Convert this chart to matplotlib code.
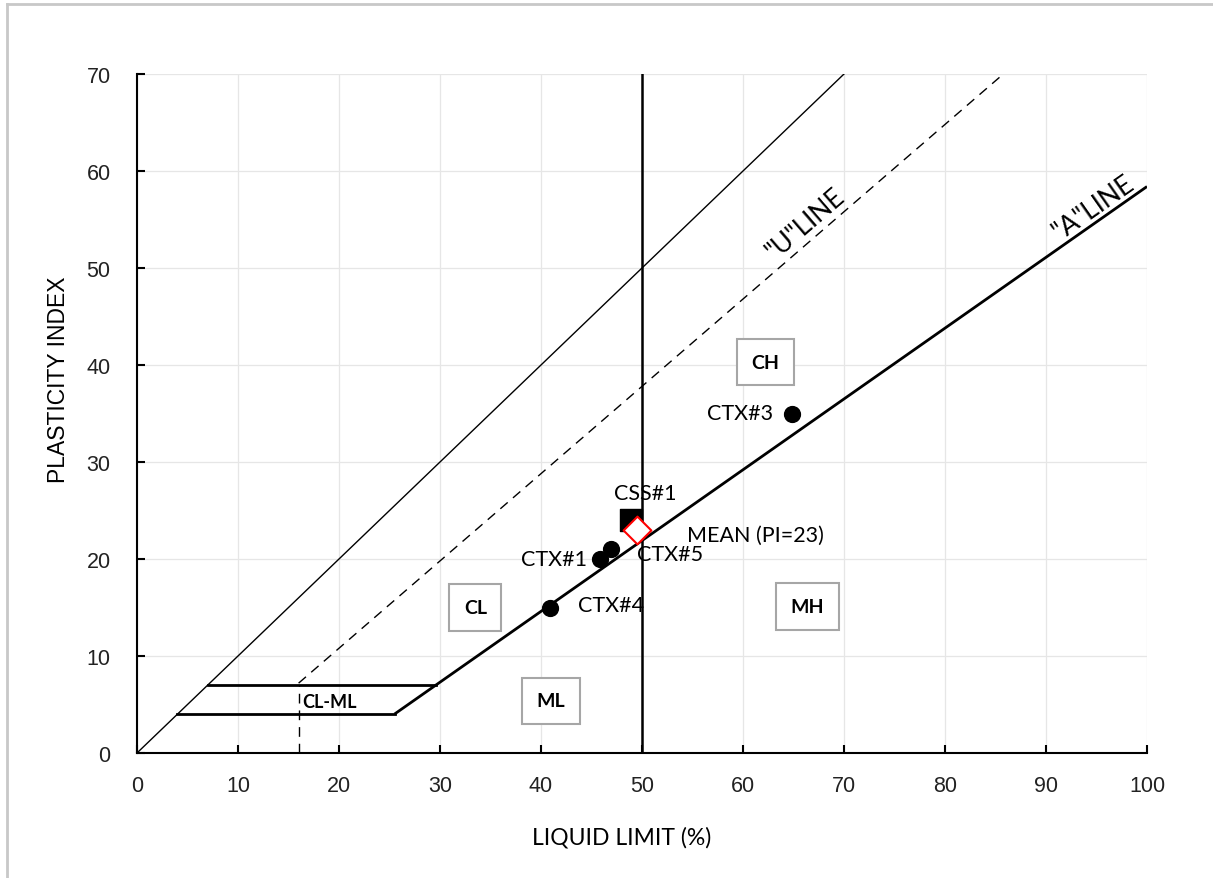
import matplotlib
matplotlib.use("Agg")
import matplotlib.pyplot as plt
from matplotlib.lines import Line2D
import numpy as np

# ---- data ----
ctx_names = ["CTX#1", "CTX#5", "CTX#4", "CTX#3"]
ctx_ll = [45.8, 46.9, 40.9, 64.9]
ctx_pi = [20.0, 21.0, 15.0, 35.0]
css_name = "CSS#1"
css_ll = [48.9]
css_pi = [24.0]
mean_name = "MEAN (PI=23)"
mean_ll = [49.5]
mean_pi = [23.0]

# reference lines
a_line_ll = [25.5, 100.0]          # PI = 0.73 (LL - 20)
u_line_ll = [16.0, 85.8]           # PI = 0.9 (LL - 8)
eq_line = [0, 70]
clml_top = [7.0, 29.6]             # PI = 7
clml_bot = [4.0, 25.5]             # PI = 4

zones = ["CH", "CL", "MH", "ML"]
zone_ll = [62.2, 33.5, 66.4, 41.0]
zone_pi = [40.3, 15.0, 15.1, 5.4]

x_ticks = list(range(0, 101, 10))
y_ticks = list(range(0, 71, 10))

W, H = 1213, 879
fig = plt.figure(figsize=(W / 100, H / 100), dpi=100)
ax = fig.add_axes([137 / W, 1 - 754 / H, (1147 - 137) / W, (754 - 75) / H])

# outer frame (left & top)
fig.add_artist(Line2D([7 / W, 7 / W], [0, 1 - 5 / H], transform=fig.transFigure, color="#c8c8c8", lw=2))
fig.add_artist(Line2D([7 / W, 1], [1 - 5 / H, 1 - 5 / H], transform=fig.transFigure, color="#c8c8c8", lw=2))

ax.set_xlim(0, 100)
ax.set_ylim(0, 70)
ax.set_xticks(x_ticks)
ax.set_yticks(y_ticks)
ax.grid(True, color="#e6e6e6", lw=0.9)
ax.set_axisbelow(True)
for s in ["top", "right"]:
    ax.spines[s].set_visible(False)
for s in ["left", "bottom"]:
    ax.spines[s].set_linewidth(1.5)
ax.tick_params(direction="in", length=6, width=1.5, labelsize=15.5)
ax.tick_params(axis="x", pad=16)
ax.tick_params(axis="y", pad=19)
for lab in ax.get_xticklabels() + ax.get_yticklabels():
    lab.set_family("Liberation Sans")
    lab.set_color("#222222")

# lines
def a_pi(ll):
    return 0.73 * (np.asarray(ll) - 20)

def u_pi(ll):
    return 0.9 * (np.asarray(ll) - 8)

ax.plot(eq_line, eq_line, color="black", lw=1.0)
ax.plot(a_line_ll, a_pi(a_line_ll), color="black", lw=2.0, solid_capstyle="butt")
ax.plot(u_line_ll, u_pi(u_line_ll), color="black", lw=1.0, ls=(0, (7, 5)))
ax.plot([16, 16], [0, 7], color="black", lw=1.0, ls=(0, (7, 5)))
ax.plot(clml_top, [7, 7], color="black", lw=2.0)
ax.plot(clml_bot, [4, 4], color="black", lw=2.0)
ax.plot([50, 50], [0, 70], color="black", lw=1.8)

# points
ax.scatter(ctx_ll, ctx_pi, s=130, color="black", zorder=5)
ax.scatter(css_ll, css_pi, s=230, marker="s", color="black", zorder=5)
ax.scatter(mean_ll, mean_pi, s=200, marker="D", facecolor="white", edgecolor="red", lw=1.5, zorder=6)

tf = "Lato"
fs = 15.5
ax.text(41.3, 20.0, ctx_names[0], fontsize=fs, family=tf, ha="center", va="center")
ax.text(52.8, 20.5, ctx_names[1], fontsize=fs, family=tf, ha="center", va="center")
ax.text(46.9, 15.3, ctx_names[2], fontsize=fs, family=tf, ha="center", va="center")
ax.text(59.7, 35.1, ctx_names[3], fontsize=fs, family=tf, ha="center", va="center")
ax.text(50.3, 26.8, css_name, fontsize=fs, family=tf, ha="center", va="center")
ax.text(61.2, 22.5, mean_name, fontsize=fs, family=tf, ha="center", va="center")

for z, zx, zy in zip(zones, zone_ll, zone_pi):
    ax.text(zx, zy, z, fontsize=14, family=tf, fontweight="bold", ha="center", va="center",
            bbox=dict(boxstyle="square,pad=0.75", facecolor="white", edgecolor="#a6a6a6", lw=1.5))
ax.text(19.1, 5.3, "CL-ML", fontsize=13, family=tf, fontweight="bold", ha="center", va="center")

ax.text(66.2, 54.6, '"U"LINE', fontsize=19, family=tf, rotation=40.8, ha="center", va="center",
        rotation_mode="anchor")
ax.text(94.7, 56.3, '"A"LINE', fontsize=19, family=tf, rotation=35, ha="center", va="center",
        rotation_mode="anchor")

ax.set_xlabel("LIQUID LIMIT (%)", fontsize=16.5, family="Lato")
ax.set_ylabel("PLASTICITY INDEX", fontsize=16.5, family="Liberation Sans")
ax.xaxis.set_label_coords(0.480, -0.108)
ax.yaxis.set_label_coords(-0.066, 0.551)

fig.savefig("out.png", dpi=100)
